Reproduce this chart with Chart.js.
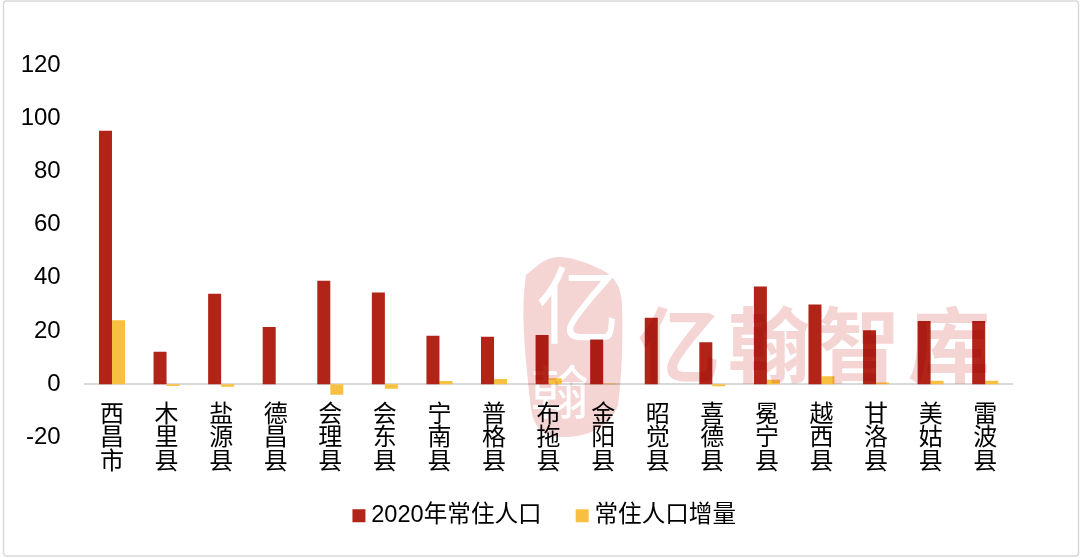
<!DOCTYPE html>
<html><head><meta charset="utf-8">
<style>html,body{margin:0;padding:0;background:#fff}#w{width:1080px;height:558px;position:relative}</style>
<script src="https://cdn.jsdelivr.net/npm/chart.js@4"></script>
</head><body><div id="w"><canvas id="c" width="1080" height="558"></canvas></div>
<script>
const categories = ["西昌市","木里县","盐源县","德昌县","会理县","会东县","宁南县","普格县","布拖县","金阳县","昭觉县","喜德县","冕宁县","越西县","甘洛县","美姑县","雷波县"];
const population2020 = [95.3,12.2,34,21.5,38.9,34.5,18.2,17.8,18.5,16.8,25,15.8,36.7,30,20.3,23.8,23.8];
const populationChange = [24,-0.7,-1,0,-4,-1.7,1.2,2,2.2,0.3,0,-0.8,1.7,3,0.6,1.3,1.3];
const seriesNames = ["2020年常住人口","常住人口增量"];
const watermarkText = "亿翰智库";
const FONT = '"Liberation Sans","Noto Sans CJK SC",sans-serif';

function makeWatermark(){
  const o = document.createElement('canvas'); o.width=1080; o.height=558;
  const g = o.getContext('2d');
  g.fillStyle='#fff'; g.fillRect(0,0,1080,558);
  g.fillStyle='#f5d4d4';
  g.beginPath();
  g.moveTo(526,275);
  g.bezierCurveTo(535,268,545,256,560,257);
  g.bezierCurveTo(575,258,590,264,600,269);
  g.bezierCurveTo(612,274,622,285,622,305);
  g.bezierCurveTo(623,340,622,375,618,405);
  g.bezierCurveTo(612,425,590,438,560,437);
  g.bezierCurveTo(540,436,532,425,530,400);
  g.bezierCurveTo(526,360,520,315,526,275);
  g.closePath(); g.fill();
  g.fillStyle='#fff'; g.textAlign='center'; g.textBaseline='middle';
  g.font='400 84px "Noto Sans CJK SC"';
  g.fillText("亿",578,305);
  g.font='400 58px "Noto Sans CJK SC"';
  g.fillText("翰",560,392);
  g.fillStyle='#f5d4d4'; g.textAlign='left'; g.textBaseline='alphabetic';
  g.font='bold 82px "Noto Sans CJK SC"';
  g.letterSpacing='8px';
  g.fillText(watermarkText,638,376);
  return o;
}

const frame = {
  id:'frame',
  afterLayout(chart){
    const l = chart.legend;
    const h = l.bottom - l.top;
    l.top = 464; l.bottom = 464 + h;
    l.left += 41; l.right += 41;
  },
  afterDraw(chart){
    const ctx = chart.ctx;
    ctx.save();
    ctx.globalCompositeOperation='multiply';
    ctx.drawImage(makeWatermark(),0,0);
    ctx.restore();
    ctx.save();
    ctx.strokeStyle='#d9d9d9'; ctx.lineWidth=1.5;
    ctx.beginPath(); ctx.roundRect(3.5,1,1075,555,3); ctx.stroke();
    ctx.restore();
  }
};

new Chart(document.getElementById('c'),{
  type:'bar',
  data:{
    labels:categories.map(s=>Array.from(s)),
    datasets:[
      {label:seriesNames[0],data:population2020,backgroundColor:'#b22318'},
      {label:seriesNames[1],data:populationChange,backgroundColor:'#f8c040'}
    ]
  },
  plugins:[frame],
  options:{
    responsive:false,animation:false,
    datasets:{bar:{categoryPercentage:0.477,barPercentage:1}},
    layout:{padding:{left:0,right:67.5,top:65,bottom:47}},
    scales:{
      x:{
        position:{y:0},
        grid:{display:false,drawTicks:false},
        border:{display:true,color:'#d9d9d9',width:2},
        ticks:{color:'#000',maxRotation:0,minRotation:0,autoSkip:false,padding:19,
          font:{family:FONT,size:24,lineHeight:0.98}}
      },
      y:{
        min:-20,max:120,
        afterFit(s){s.width=84.7;},
        grid:{display:false,drawTicks:false},
        border:{display:false},
        ticks:{stepSize:20,color:'#000',padding:24,font:{family:FONT,size:24}}
      }
    },
    plugins:{
      tooltip:{enabled:false},
      legend:{
        position:'bottom',
        labels:{usePointStyle:true,pointStyle:'rect',boxWidth:1,boxHeight:13,padding:40,color:'#000',
          font:{family:FONT,size:23.6}}
      }
    }
  }
});
</script></body></html>
